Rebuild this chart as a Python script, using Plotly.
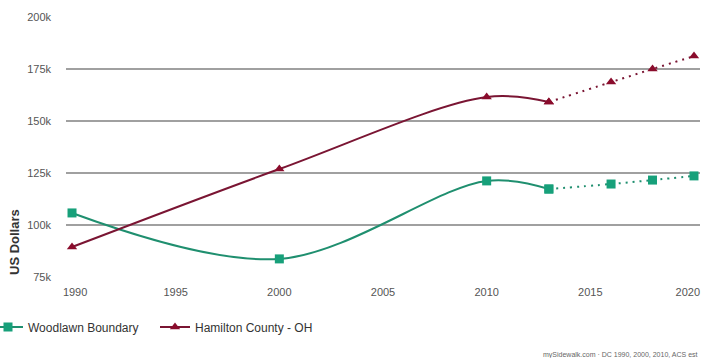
import plotly.graph_objects as go

years_actual = [1990, 2000, 2010, 2013]
years_proj = [2013, 2016, 2018, 2020]
woodlawn_actual = [105800, 83700, 121200, 117300]
woodlawn_proj = [117300, 119700, 121600, 123600]
hamilton_actual = [89400, 126900, 161500, 159100]
hamilton_proj = [159100, 168700, 175000, 181200]
y_ticks = [75000, 100000, 125000, 150000, 175000, 200000]
y_tick_labels = ["75k", "100k", "125k", "150k", "175k", "200k"]
x_ticks = [1990.15, 1995, 2000, 2005, 2010, 2015, 2019.7]
x_tick_labels = ["1990", "1995", "2000", "2005", "2010", "2015", "2020"]

GREEN = "#1f8f6f"
GREEN_M = "#17a07a"
RED = "#7a1533"
RED_M = "#8a0c2c"
DOTS = "2px,5px"

fig = go.Figure()
fig.add_trace(go.Scatter(
    x=years_actual, y=woodlawn_actual, mode="lines+markers", name="Woodlawn Boundary",
    line=dict(color=GREEN, width=2, shape="spline", smoothing=1.0),
    marker=dict(symbol="square", size=9, color=GREEN_M),
))
fig.add_trace(go.Scatter(
    x=years_proj, y=woodlawn_proj, mode="lines+markers", showlegend=False,
    line=dict(color=GREEN, width=2, dash=DOTS, shape="spline"),
    marker=dict(symbol="square", size=9, color=GREEN_M),
))
fig.add_trace(go.Scatter(
    x=years_actual, y=hamilton_actual, mode="lines+markers", name="Hamilton County - OH",
    line=dict(color=RED, width=2, shape="spline", smoothing=1.0),
    marker=dict(symbol="triangle-up", size=9, color=RED_M),
))
fig.add_trace(go.Scatter(
    x=years_proj, y=hamilton_proj, mode="lines+markers", showlegend=False,
    line=dict(color=RED, width=2, dash=DOTS, shape="spline"),
    marker=dict(symbol="triangle-up", size=9, color=RED_M),
))

fig.update_layout(
    width=704, height=358,
    margin=dict(l=66, r=4, t=17, b=81, autoexpand=False),
    paper_bgcolor="white", plot_bgcolor="white",
    font=dict(family="Arial, Liberation Sans, sans-serif", color="#555", size=11),
    showlegend=True,
    legend=dict(orientation="h", xref="paper", yref="paper",
                x=-78 / 634, xanchor="left", y=(277 - 327) / 260, yanchor="middle",
                font=dict(size=12, color="#333"), entrywidth=122, entrywidthmode="pixels",
                itemwidth=30),
    xaxis=dict(range=[1989.71, 2020.29], tickvals=x_ticks, ticktext=x_tick_labels,
               showgrid=False, zeroline=False, showline=False, ticks="", automargin=False,
               ticklabelstandoff=7,
               tickfont=dict(size=11, color="#555")),
    yaxis=dict(range=[75000, 200000], tickvals=y_ticks, ticktext=y_tick_labels,
               showgrid=True, gridcolor="#a0a0a0", gridwidth=2, zeroline=False,
               showline=False, ticks="", ticklabelstandoff=14, automargin=False,
               tickfont=dict(size=11, color="#555")),
    annotations=[
        dict(text="<b>US Dollars</b>", textangle=-90, xref="paper", yref="paper",
             x=-0.082, y=0, xanchor="center", yanchor="bottom", showarrow=False,
             font=dict(size=13, color="#333")),
        dict(text="mySidewalk.com · DC 1990, 2000, 2010, ACS est", xref="paper", yref="paper",
             x=1.0, y=-0.30, xanchor="right", yanchor="middle", showarrow=False,
             font=dict(size=7, color="#666")),
    ],
)
fig.write_html("out.html")
